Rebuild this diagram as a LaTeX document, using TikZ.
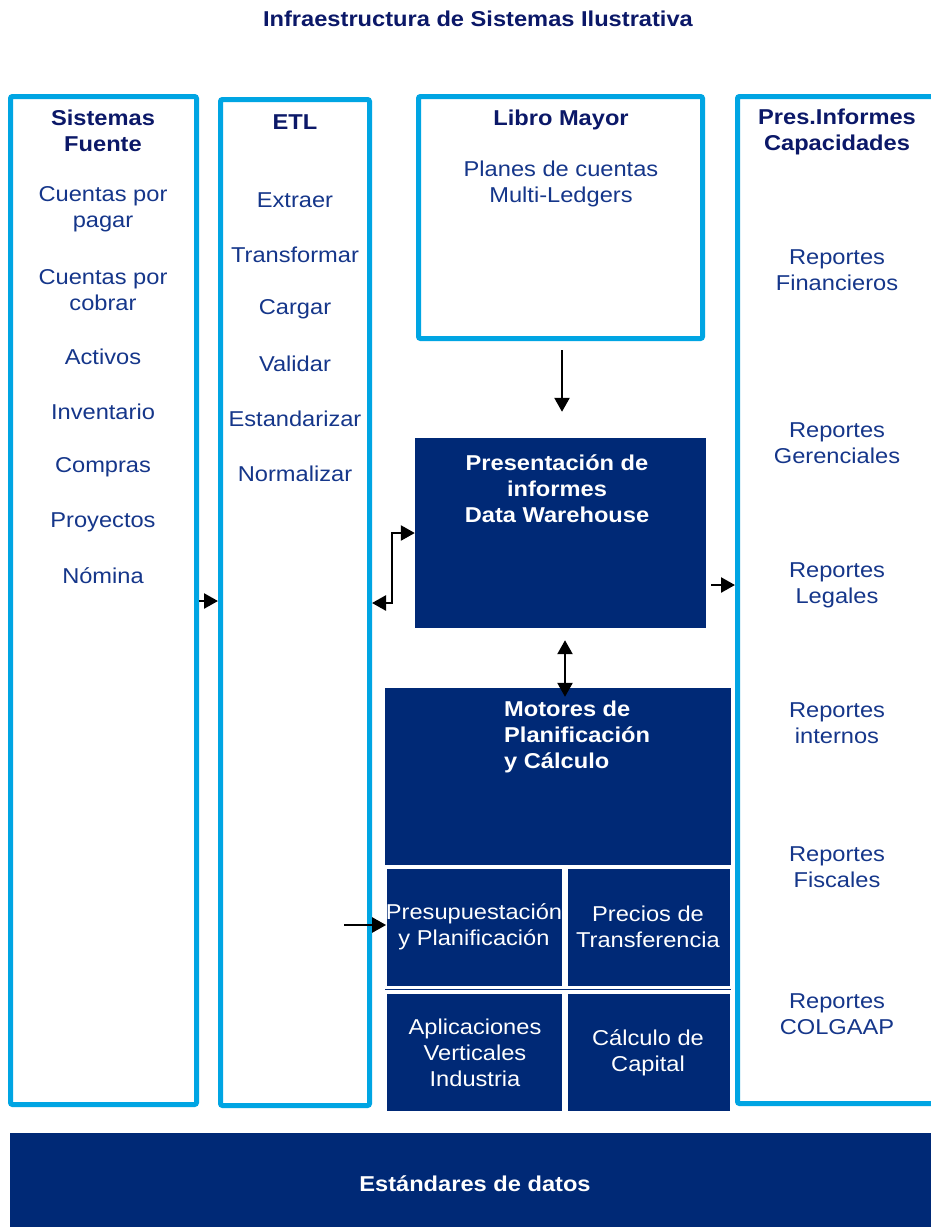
\documentclass[tikz,border=0pt]{standalone}
\usepackage{fontspec}
\setmainfont{Liberation Sans}[FakeStretch=1.1]
\usetikzlibrary{arrows.meta}
\definecolor{navy}{HTML}{002976}
\definecolor{sky}{HTML}{00A5E3}
\definecolor{headc}{HTML}{0B1868}
\definecolor{bodyc}{HTML}{15368A}
\begin{document}
\begin{tikzpicture}[x=1pt,y=-1pt,
  panel/.style={draw=sky, line width=5pt, rounded corners=2pt, fill=white, inner sep=0pt},
  darkbox/.style={fill=navy, inner sep=0pt},
  cell/.style={fill=navy, draw=white, line width=0.8pt, inner sep=0pt},
  txt/.style={font=\fontsize{21.5}{26}\selectfont, text=bodyc, align=center, inner sep=0pt},
  head/.style={font=\fontsize{21.5}{26}\selectfont\bfseries, text=headc, align=center, inner sep=0pt},
  wtxt/.style={txt, text=white},
  wbold/.style={head, text=white},
  tip/.tip={Triangle[length=14pt,width=15pt]},
  arr/.style={line width=2.5pt, -tip},
  darr/.style={line width=2.5pt, tip-tip}]
\useasboundingbox (0,0) rectangle (931,1227);
\fill[white] (0,0) rectangle (931,1227);

% title
\node[head, text=headc] (title) at (478,19) {Infraestructura de Sistemas Ilustrativa};

% panels
\node[panel, minimum width=186pt, minimum height=1008pt] (fuente) at (103.5,600.5) {};
\node[panel, minimum width=149pt, minimum height=1006pt] (etl) at (295,602.5) {};
\node[panel, minimum width=284pt, minimum height=242pt] (lm) at (560.5,217.5) {};
\node[panel, minimum width=199pt, minimum height=1007pt] (pres) at (837,600) {};

% dark boxes
\node[darkbox, minimum width=291pt, minimum height=190pt] (dw) at (560.5,533) {};
\node[darkbox, minimum width=346pt, minimum height=177pt] (mot) at (558,776.5) {};
\node[cell, minimum width=176pt, minimum height=118pt] (presup) at (474.5,927.5) {};
\node[cell, minimum width=163pt, minimum height=118pt] (precios) at (649,927.5) {};
\node[cell, minimum width=176pt, minimum height=118pt] (aplic) at (474.5,1052.5) {};
\node[cell, minimum width=163pt, minimum height=118pt] (calc) at (649,1052.5) {};
\fill[navy] (385,988.6) rectangle (731,990.4);
\node[darkbox, minimum width=930pt, minimum height=97pt] (std) at (475,1181.5) {};

% Sistemas fuente texts
\node[head] (hf) at (103,131) {Sistemas\\Fuente};
\node[txt] (f1) at (103,209) {Cuentas por\\pagar};
\node[txt] (f2) at (103,290) {Cuentas por\\cobrar};
\node[txt] (f3) at (103,357) {Activos};
\node[txt] (f4) at (103,412) {Inventario};
\node[txt] (f5) at (103,467) {Compras};
\node[txt] (f6) at (103,522) {Proyectos};
\node[txt] (f7) at (103,576) {Nómina};

% ETL texts
\node[head] (he) at (295,122) {ETL};
\node[txt] (e1) at (295,200) {Extraer};
\node[txt] (e2) at (295,255) {Transformar};
\node[txt] (e3) at (295,309) {Cargar};
\node[txt] (e4) at (295,364) {Validar};
\node[txt] (e5) at (295,419) {Estandarizar};
\node[txt] (e6) at (295,474) {Normalizar};

% Libro mayor texts
\node[head] (hl) at (561,120) {Libro Mayor};
\node[txt] (l1) at (561,184) {Planes de cuentas\\Multi-Ledgers};

% Pres informes texts
\node[head] (hp) at (837,132) {Pres.Informes\\Capacidades};
\node[txt] (p1) at (837,270) {Reportes\\Financieros};
\node[txt] (p2) at (837,443) {Reportes\\Gerenciales};
\node[txt] (p3) at (837,585) {Reportes\\Legales};
\node[txt] (p4) at (837,723) {Reportes\\internos};
\node[txt] (p5) at (837,867) {Reportes\\Fiscales};
\node[txt] (p6) at (837,1014) {Reportes\\COLGAAP};

% dark box texts
\node[wbold] (tdw) at (557,489) {Presentación de\\informes\\Data Warehouse};
\node[wbold, align=left, anchor=west] (tmot) at (504,737) {Motores de\\Planificación\\y Cálculo};
\node[wtxt] (tpre) at (474,927) {Presupuestación\\y Planificación};
\node[wtxt] (tpr) at (648,927) {Precios de\\Transferencia};
\node[wtxt] (tap) at (475,1053) {Aplicaciones\\Verticales\\Industria};
\node[wtxt] (tca) at (648,1053) {Cálculo de\\Capital};
\node[wbold] (tstd) at (475,1184) {Estándares de datos};

% connectors
\coordinate (y1) at (0,601);
\draw[arr] (fuente.east |- y1) -- (etl.west |- y1);
\coordinate (k1) at (392,603);
\coordinate (k2) at (392,533);
\draw[darr] (etl.east |- k1) -- (k1) -- (k2) -- (dw.west |- k2);
\coordinate (x3) at (562,0);
\coordinate (a3) at ([yshift=-9pt]lm.south);
\coordinate (b3) at ([yshift=26pt]dw.north);
\draw[arr] (a3 -| x3) -- (b3 -| x3);
\coordinate (x4) at (565,0);
\coordinate (a4) at ([yshift=-12pt]dw.south);
\coordinate (b4) at ([yshift=-9pt]mot.north);
\draw[darr] (a4 -| x4) -- (b4 -| x4);
\coordinate (y5) at (0,585);
\draw[arr] ([xshift=5pt]dw.east |- y5) -- (pres.west |- y5);
\coordinate (s6) at (344,925);
\draw[arr] (s6) -- (presup.west |- s6);
\end{tikzpicture}
\end{document}
